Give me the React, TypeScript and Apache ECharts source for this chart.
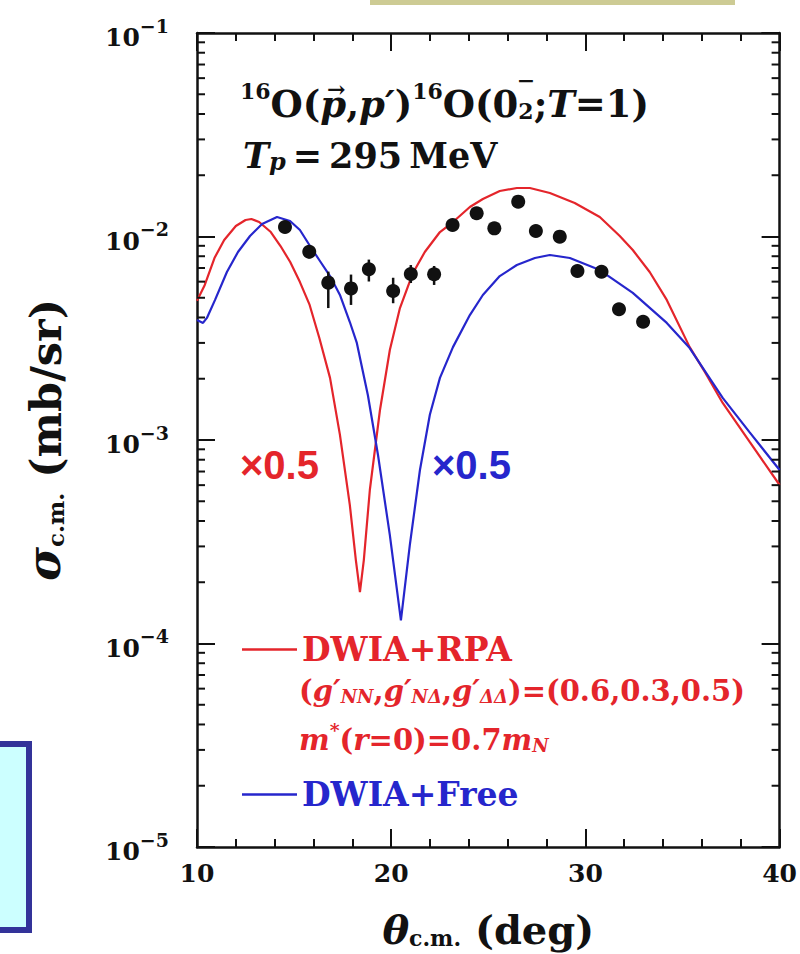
import React, { useEffect, useRef } from "react";
import * as echarts from "echarts";

// ---- axis ticks ----
const xMin = 10;
const xMax = 40;
const xTickValues = [10, 20, 30, 40];
const yTickValues = [1e-5, 1e-4, 1e-3, 1e-2, 1e-1];
const yTickExponents = ["−5", "−4", "−3", "−2", "−1"];
const yMinorTickValues = [
  2e-5, 3e-5, 4e-5, 5e-5, 6e-5, 7e-5, 8e-5, 9e-5,
  2e-4, 3e-4, 4e-4, 5e-4, 6e-4, 7e-4, 8e-4, 9e-4,
  2e-3, 3e-3, 4e-3, 5e-3, 6e-3, 7e-3, 8e-3, 9e-3,
  2e-2, 3e-2, 4e-2, 5e-2, 6e-2, 7e-2, 8e-2, 9e-2,
];

// ---- DWIA+RPA (x0.5) ----
const rpaTheta = [10.0, 10.4, 10.9, 11.4, 12.0, 12.5, 12.8, 13.2, 13.8, 14.3, 14.8, 15.3, 15.8, 16.3, 16.85, 17.36, 17.87, 18.18, 18.39, 18.59, 18.9, 19.42, 19.93, 20.45, 21.12, 21.73, 22.51, 23.18, 24.05, 24.72, 25.59, 26.47, 27.14, 28.17, 29.45, 30.74, 31.77, 32.44, 33.31, 34.19, 35.37, 36.15, 37.07, 38.46, 40.0];
const rpaSigma = [0.00483, 0.00578, 0.00784, 0.00961, 0.01126, 0.01205, 0.01219, 0.01178, 0.01052, 0.00898, 0.00749, 0.00597, 0.00461, 0.00317, 0.00202, 0.00106, 0.000479, 0.000257, 0.000179, 0.000257, 0.000568, 0.0014, 0.00277, 0.00445, 0.00662, 0.00839, 0.01052, 0.01178, 0.01396, 0.01529, 0.01674, 0.01731, 0.01731, 0.01636, 0.01461, 0.01247, 0.01006, 0.00858, 0.00669, 0.00488, 0.00286, 0.00216, 0.00152, 0.000978, 0.000601];

// ---- DWIA+Free (x0.5) ----
const freeTheta = [10.0, 10.31, 10.51, 10.93, 11.54, 12.11, 12.73, 13.35, 14.12, 14.79, 15.3, 15.82, 16.33, 16.85, 17.36, 17.87, 18.23, 18.8, 19.32, 19.93, 20.5, 20.96, 21.48, 21.99, 22.51, 23.18, 24.05, 24.72, 25.59, 26.47, 27.4, 28.17, 29.2, 30.74, 32.44, 34.19, 35.37, 37.07, 38.46, 40.0];
const freeSigma = [0.00389, 0.00376, 0.00398, 0.00488, 0.00669, 0.00839, 0.01006, 0.01152, 0.01247, 0.01192, 0.01076, 0.00898, 0.00758, 0.00639, 0.00516, 0.0038, 0.003, 0.00166, 0.000844, 0.000341, 0.00013, 0.000305, 0.000712, 0.00133, 0.00202, 0.00286, 0.00411, 0.00516, 0.00639, 0.00724, 0.00784, 0.00811, 0.00784, 0.00684, 0.00528, 0.00376, 0.00283, 0.00161, 0.00109, 0.000712];

// ---- experimental data ----
const dataTheta = [14.53, 15.78, 16.76, 17.93, 18.85, 20.1, 21.01, 22.21, 23.16, 24.4, 25.31, 26.54, 27.45, 28.68, 29.59, 30.83, 31.73, 32.97];
const dataSigma = [0.01113, 0.00842, 0.00593, 0.00556, 0.0069, 0.0054, 0.00654, 0.00652, 0.01139, 0.013, 0.01097, 0.01483, 0.01064, 0.00998, 0.00677, 0.00671, 0.00439, 0.00381];
const errLow = [0.0105, 0.0078, 0.00445, 0.00461, 0.00601, 0.0047, 0.00591, 0.00578, 0.0108, 0.0124, 0.0104, 0.0141, 0.0101, 0.0095, 0.0064, 0.0064, 0.0042, 0.0036];
const errHigh = [0.0118, 0.0089, 0.00672, 0.0065, 0.0077, 0.00627, 0.00724, 0.00716, 0.012, 0.0137, 0.0116, 0.0156, 0.0112, 0.0105, 0.0071, 0.0071, 0.0046, 0.004];

const SERIF = '"DejaVu Serif", "Liberation Serif", serif';
const SANS = '"Liberation Sans", Arial, sans-serif';
const RED = "#e4252b";
const BLUE = "#2626cc";
const INK = "#111111";

const T1 = 37; // title font
const T1S = 22; // title sup/sub font

function fontStr(size: number, italic = false) {
  return `${italic ? "italic " : ""}bold ${size}px ${SERIF}`;
}

function measure(text: string, font: string) {
  const ctx = document.createElement("canvas").getContext("2d");
  if (!ctx) return text.length * 10;
  ctx.font = font;
  return ctx.measureText(text).width;
}

export default function App() {
  const ref = useRef<HTMLDivElement>(null);

  useEffect(() => {
    if (!ref.current) return;
    const chart = echarts.init(ref.current, undefined, { renderer: "svg" });

    const baseText = { fontFamily: SERIF, fontWeight: "bold" as const, fill: INK };
    const titleRich = {
      n: { ...baseText, fontSize: T1, lineHeight: 42, verticalAlign: "bottom" },
      i: { ...baseText, fontSize: T1, lineHeight: 42, fontStyle: "italic", verticalAlign: "bottom" },
      sup: { ...baseText, fontSize: T1S, lineHeight: 14, verticalAlign: "top" },
      sub: { ...baseText, fontSize: T1S, lineHeight: 12, verticalAlign: "bottom" },
    };
    const line2Rich = {
      n: { ...baseText, fontSize: 35, lineHeight: 40, verticalAlign: "bottom" },
      i: { ...baseText, fontSize: 35, lineHeight: 40, fontStyle: "italic", verticalAlign: "bottom" },
      isub: { ...baseText, fontSize: 24, lineHeight: 8, fontStyle: "italic", verticalAlign: "bottom" },
    };
    const redBase = { fontFamily: SERIF, fontWeight: "bold" as const, fill: RED };
    const redRich = {
      n: { ...redBase, fontSize: 29, lineHeight: 34, verticalAlign: "bottom" },
      i: { ...redBase, fontSize: 29, lineHeight: 34, fontStyle: "italic", verticalAlign: "bottom" },
      sub: { ...redBase, fontSize: 18, lineHeight: 10, fontStyle: "italic", verticalAlign: "bottom" },
      sup: { ...redBase, fontSize: 19, lineHeight: 14, verticalAlign: "top" },
    };

    // positions of the vector arrow over p and the minus over the subscript 2
    const titleX = 240;
    const wSup16 = measure("16", fontStr(T1S));
    const arrowX =
      titleX + wSup16 + measure("O(", fontStr(T1)) + measure("p", fontStr(T1, true)) / 2 + 3;
    const minusX =
      titleX +
      wSup16 +
      measure("O(", fontStr(T1)) +
      measure("p", fontStr(T1, true)) +
      measure(",", fontStr(T1)) +
      measure("p′", fontStr(T1, true)) +
      measure(")", fontStr(T1)) +
      wSup16 +
      measure("O(0", fontStr(T1)) +
      measure("2", fontStr(T1S)) / 2;

    const option: any = {
      animation: false,
      backgroundColor: "#ffffff",
      grid: { left: 197, right: 20, top: 33, bottom: 107, containLabel: false },
      legend: {
        orient: "vertical",
        left: 237,
        top: 628,
        itemWidth: 55,
        itemHeight: 2.5,
        itemGap: 112,
        icon: "rect",
        selectedMode: false,
        textStyle: { fontFamily: SERIF, fontWeight: "bold", fontSize: 33, lineHeight: 30 },
        data: [
          { name: "DWIA+RPA", textStyle: { color: RED } },
          { name: "DWIA+Free", textStyle: { color: BLUE } },
        ],
      },
      xAxis: [
        {
          type: "value",
          min: xMin,
          max: xMax,
          interval: 10,
          position: "bottom",
          axisLine: { show: true, onZero: false, lineStyle: { color: INK, width: 2.5 } },
          axisTick: { show: true, inside: true, length: 18, lineStyle: { color: INK, width: 2 } },
          minorTick: { show: true, splitNumber: 5, length: 8, lineStyle: { color: INK, width: 2 } },
          splitLine: { show: false },
          axisLabel: {
            margin: 14,
            fontFamily: SERIF,
            fontWeight: "bold",
            fontSize: 25,
            color: INK,
            formatter: (v: number) => (xTickValues.indexOf(v) >= 0 ? String(v) : ""),
          },
          name: "{i|θ}{sub|c.m.}{n| (deg)}",
          nameLocation: "middle",
          nameGap: 56,
          nameTextStyle: {
            rich: {
              i: { fontFamily: SERIF, fontWeight: "bold", fontStyle: "italic", fontSize: 40, lineHeight: 46, color: INK, verticalAlign: "bottom" },
              sub: { fontFamily: SERIF, fontWeight: "bold", fontSize: 22, lineHeight: 12, color: INK, verticalAlign: "bottom" },
              n: { fontFamily: SERIF, fontWeight: "bold", fontSize: 40, lineHeight: 46, color: INK, verticalAlign: "bottom" },
            },
          },
        },
        {
          type: "value",
          min: xMin,
          max: xMax,
          interval: 10,
          position: "top",
          axisLine: { show: true, onZero: false, lineStyle: { color: INK, width: 2.5 } },
          axisTick: { show: true, inside: true, length: 18, lineStyle: { color: INK, width: 2 } },
          minorTick: { show: true, splitNumber: 5, length: 8, lineStyle: { color: INK, width: 2 } },
          splitLine: { show: false },
          axisLabel: { show: false },
        },
      ],
      yAxis: [
        {
          type: "log",
          logBase: 10,
          min: 1e-5,
          max: 1e-1,
          splitNumber: 4,
          position: "left",
          axisLine: { show: true, onZero: false, lineStyle: { color: INK, width: 2.5 } },
          axisTick: { show: true, inside: true, length: 18, lineStyle: { color: INK, width: 2 } },
          splitLine: { show: false },
          axisLabel: {
            margin: 28,
            showMinLabel: true,
            showMaxLabel: true,
            formatter: (v: number) => {
              const idx = yTickValues.findIndex((t) => Math.abs(Math.log10(t) - Math.log10(v)) < 1e-6);
              return idx >= 0 ? `{b|10}{s|${yTickExponents[idx]}}` : "";
            },
            rich: {
              b: { fontFamily: SERIF, fontWeight: "bold", fontSize: 25, lineHeight: 34, color: INK, verticalAlign: "bottom" },
              s: { fontFamily: SERIF, fontWeight: "bold", fontSize: 19, lineHeight: 12, color: INK, verticalAlign: "top" },
            },
          },
          name: "{i|σ}{sub|c.m.}{n| (mb/sr)}",
          nameLocation: "middle",
          nameGap: 130,
          nameTextStyle: {
            rich: {
              i: { fontFamily: SERIF, fontWeight: "bold", fontStyle: "italic", fontSize: 46, lineHeight: 50, color: INK, verticalAlign: "bottom" },
              sub: { fontFamily: SERIF, fontWeight: "bold", fontSize: 23, lineHeight: 12, color: INK, verticalAlign: "bottom" },
              n: { fontFamily: SERIF, fontWeight: "bold", fontSize: 43, lineHeight: 50, color: INK, verticalAlign: "bottom" },
            },
          },
        },
        {
          type: "log",
          logBase: 10,
          min: 1e-5,
          max: 1e-1,
          splitNumber: 4,
          position: "right",
          axisLine: { show: true, onZero: false, lineStyle: { color: INK, width: 2.5 } },
          axisTick: { show: true, inside: true, length: 18, lineStyle: { color: INK, width: 2 } },
          splitLine: { show: false },
          axisLabel: { show: false },
        },
      ],
      series: [
        {
          type: "custom",
          name: "minorTicks",
          xAxisIndex: 0,
          yAxisIndex: 0,
          silent: true,
          z: 5,
          data: yMinorTickValues.map((v) => [xMin, v]),
          renderItem: (_p: any, api: any) => {
            const v = api.value(1);
            const a = api.coord([xMin, v]);
            const b = api.coord([xMax, v]);
            return {
              type: "group",
              children: [
                { type: "line", shape: { x1: a[0], y1: a[1], x2: a[0] + 8, y2: a[1] }, style: { stroke: INK, lineWidth: 2 } },
                { type: "line", shape: { x1: b[0] - 8, y1: b[1], x2: b[0], y2: b[1] }, style: { stroke: INK, lineWidth: 2 } },
              ],
            };
          },
        },
        {
          type: "line",
          name: "DWIA+RPA",
          data: rpaTheta.map((t, i) => [t, rpaSigma[i]]),
          showSymbol: false,
          symbol: "none",
          smooth: false,
          lineStyle: { color: RED, width: 2.2 },
          itemStyle: { color: RED },
          z: 3,
        },
        {
          type: "line",
          name: "DWIA+Free",
          data: freeTheta.map((t, i) => [t, freeSigma[i]]),
          showSymbol: false,
          symbol: "none",
          smooth: false,
          lineStyle: { color: BLUE, width: 2.2 },
          itemStyle: { color: BLUE },
          z: 3,
        },
        {
          type: "custom",
          name: "errors",
          silent: true,
          z: 6,
          data: dataTheta.map((t, i) => [t, errLow[i], errHigh[i]]),
          renderItem: (_p: any, api: any) => {
            const lo = api.coord([api.value(0), api.value(1)]);
            const hi = api.coord([api.value(0), api.value(2)]);
            return { type: "line", shape: { x1: lo[0], y1: lo[1], x2: hi[0], y2: hi[1] }, style: { stroke: INK, lineWidth: 2.5 } };
          },
        },
        {
          type: "scatter",
          name: "data",
          data: dataTheta.map((t, i) => [t, dataSigma[i]]),
          symbol: "circle",
          symbolSize: 14,
          itemStyle: { color: INK, opacity: 1 },
          z: 7,
        },
      ],
      graphic: [
        { type: "rect", shape: { x: 370, y: 0, width: 365, height: 5 }, style: { fill: "#cdcb94" } },
        { type: "rect", shape: { x: -10, y: 744, width: 39, height: 186 }, style: { fill: "#ccffff", stroke: "#333399", lineWidth: 6 } },
        {
          type: "text",
          x: titleX,
          y: 101,
          style: {
            text: "{sup|16}{n|O(}{i|p}{n|,}{i|p′}{n|)}{sup|16}{n|O(0}{sub|2}{n|;}{i|T}{n|=1)}",
            verticalAlign: "middle",
            rich: titleRich,
          },
        },
        { type: "text", x: arrowX, y: 89, style: { text: "→", fontFamily: SERIF, fontWeight: "bold", fontSize: 22, fill: INK, align: "center", verticalAlign: "middle" } },
        { type: "text", x: minusX, y: 80, style: { text: "−", fontFamily: SERIF, fontWeight: "bold", fontSize: 22, fill: INK, align: "center", verticalAlign: "middle" } },
        {
          type: "text",
          x: 243,
          y: 153,
          style: {
            text: "{i|T}{isub|p}{n|\u2009=\u2009295\u2009MeV}",
            verticalAlign: "middle",
            rich: line2Rich,
          },
        },
        { type: "text", x: 240, y: 465, style: { text: "×0.5", fontFamily: SANS, fontWeight: "bold", fontSize: 40, fill: RED, verticalAlign: "middle" } },
        { type: "text", x: 432, y: 465, style: { text: "×0.5", fontFamily: SANS, fontWeight: "bold", fontSize: 40, fill: BLUE, verticalAlign: "middle" } },
        {
          type: "text",
          x: 299,
          y: 688,
          style: {
            text: "{n|(}{i|g′}{sub|NN}{n|,}{i|g′}{sub|NΔ}{n|,}{i|g′}{sub|ΔΔ}{n|)=(0.6,0.3,0.5)}",
            verticalAlign: "middle",
            rich: redRich,
          },
        },
        {
          type: "text",
          x: 299,
          y: 737,
          style: {
            text: "{i|m}{sup|*}{n|(}{i|r}{n|=0)=0.7}{i|m}{sub|N}",
            verticalAlign: "middle",
            rich: redRich,
          },
        },
      ],
    };

    chart.setOption(option);
    return () => chart.dispose();
  }, []);

  return (
    <div
      ref={ref}
      style={{ position: "absolute", left: 0, top: 0, width: 800, height: 954, background: "#fff" }}
    />
  );
}
